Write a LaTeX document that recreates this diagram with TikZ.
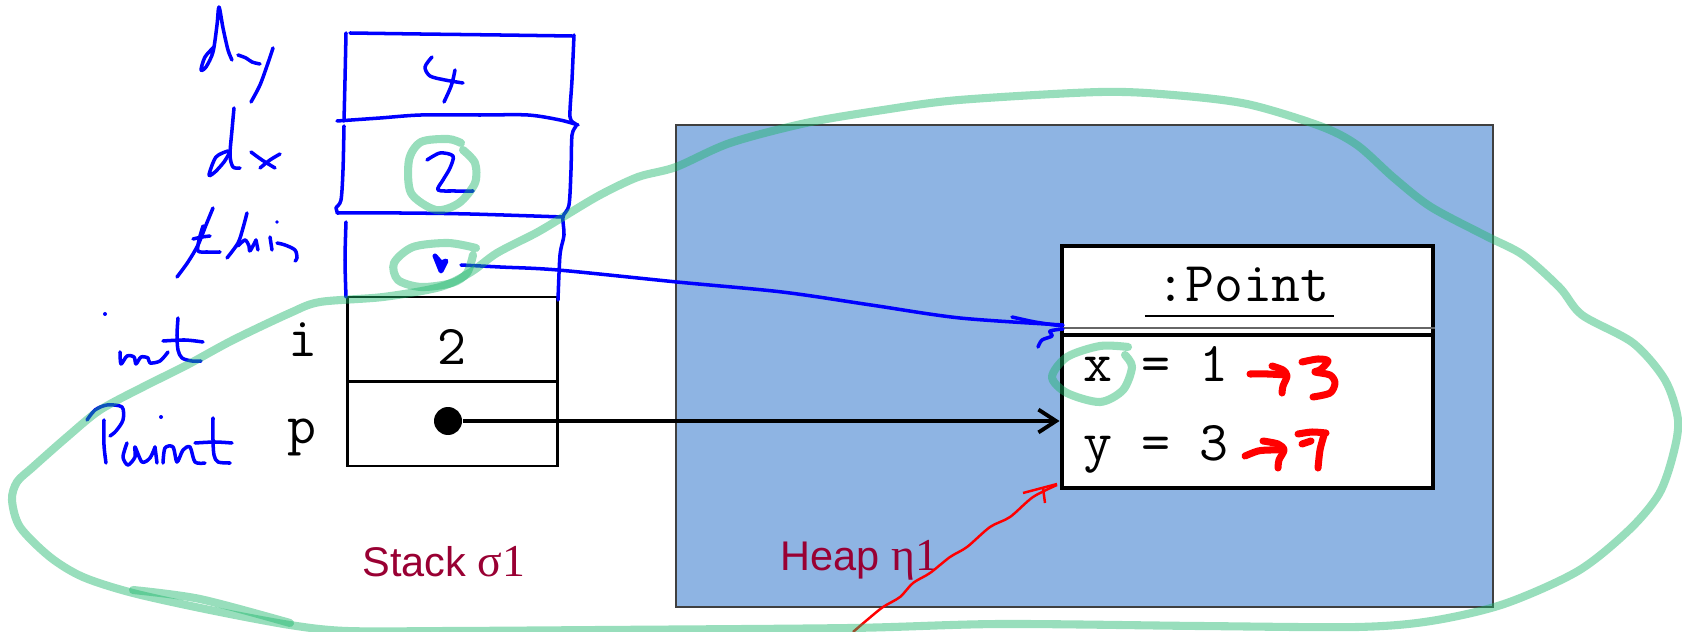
\documentclass[tikz,border=0pt]{standalone}
\usepackage{fontspec}
\newfontfamily\labelsf{Liberation Sans}
\newfontfamily\labelrm{Liberation Serif}
\usetikzlibrary{arrows.meta}

\definecolor{heapblue}{HTML}{8EB4E3}
\definecolor{labelred}{HTML}{990033}
\definecolor{marker}{RGB}{27,182,106}

\tikzset{
  code/.style={font=\fontsize{16}{19}\selectfont\ttfamily, inner sep=0pt},
  cell/.style={draw, line width=0.6pt, minimum width=2.1cm, minimum height=0.845cm, inner sep=0pt},
  hand/.style={blue, line width=1pt, line cap=round, line join=round},
  hilite/.style={marker, opacity=0.45, line width=2.3pt, line cap=round, line join=round},
  redpen/.style={red, line width=2pt, line cap=round, line join=round},
  region/.style={labelred, font=\fontsize{11.8}{14}\selectfont\labelsf, inner sep=0pt},
}
\newcommand{\greekpart}[1]{{\labelrm\fontsize{13}{14}\selectfont #1}}

\begin{document}
\begin{tikzpicture}[x=0.1mm, y=-0.1mm]
\useasboundingbox (0,0) rectangle (1682,632);

% heap with the object
\node[draw=black!75, line width=0.5pt, fill=heapblue, minimum width=8.17cm, minimum height=4.82cm, inner sep=0pt] (heap) at (1084.5,366) {};
\node[region, anchor=base west] (heaplbl) at (780,570) {Heap \greekpart{η1}};

\node[draw, line width=1.4pt, fill=white, minimum width=3.71cm, minimum height=2.42cm, inner sep=0pt] (obj) at (1247.5,367) {};
\draw[line width=0.4pt, black!60] (obj.west |- 0,328) -- (obj.east |- 0,328);
\draw[line width=1.4pt] (obj.west |- 0,335) -- (obj.east |- 0,335);
\node[code, anchor=base] (title) at (1243,302) {:Point};
\draw[line width=0.8pt] ([xshift=-3pt, yshift=-4pt]title.base west) -- ([xshift=1pt, yshift=-4pt]title.base east);
\node[code, anchor=base west] (xrow) at (1083,382) {x = 1};
\node[code, anchor=base west] (yrow) at (1083,460) {y = 3};

% stack
\node[cell] (icell) at (452.5,339.25) {};
\node[cell] (pcell) at (452.5,423.75) {};
\node[code, anchor=base] (ival) at (452,364) {2};
\node[code, anchor=base] (iname) at (303,357) {i};
\node[code, anchor=base] (pname) at (302,443) {p};
\node[circle, fill, inner sep=0pt, minimum size=2.8mm] (pdot) at (448,421) {};
\draw[line width=1.1pt, -{Straight Barb[length=5pt, width=6.5pt, line width=1.1pt]}] (pdot) -- (obj.west |- pdot);
\node[region, anchor=base west] (stacklbl) at (362,576) {Stack \greekpart{σ1}};

% frames added by pen
\draw[hand] plot[smooth] coordinates {(346,33) (345,80) (344,121)};
\draw[hand] plot[smooth] coordinates {(344,126) (343,170) (341,200) (336,208) (338,213)};
\draw[hand] plot[smooth] coordinates {(346,222) (345,260) (346,297)};
\draw[hand] plot[smooth] coordinates {(574,35) (572,80) (570,117) (576,125) (572,135) (571,170) (569,205) (563,217) (564,235) (560,255) (558,300)};
\draw[hand] plot[smooth] coordinates {(350,33) (420,34) (500,35) (572,36)};
\draw[hand] plot[smooth] coordinates {(337,121) (380,118) (421,115) (480,115) (528,115) (560,120) (578,125)};
\draw[hand] plot[smooth] coordinates {(337,213) (400,213) (470,214) (563,217)};

% 4 and 2
\draw[hand] plot[smooth] coordinates {(432,57) (425,67) (430,76) (445,80) (463,83)};
\draw[hand] (455,70) .. controls (452,85) .. (444,102);
\draw[hand] plot[smooth] coordinates {(427,160) (440,153) (453,156) (450,168) (443,180) (438,190) (455,191) (473,191)};

% this pointer
\draw[hand, line width=1.4pt] plot coordinates {(435,256) (441,263) (446,261) (441,271) (435,256)};
\draw[hand] plot[smooth] coordinates {(461,265) (500,267) (558,270) (677,282) (782,292) (871,305) (960,318) (1063,325)};
\draw[hand] plot[smooth] coordinates {(1012,317) (1035,322) (1062,326)};
\draw[hand] plot[smooth] coordinates {(1063,329) (1050,331) (1052,336) (1042,340) (1038,347)};

% type and name labels
\draw[hand] plot[smooth] coordinates {(214,47) (205,57) (201,70) (206,67) (213,52) (217,25) (219,7) (223,28) (228,50) (232,60)};
\draw[hand] plot[smooth] coordinates {(238,55) (246,58) (252,62) (260,64)};
\draw[hand] plot[smooth] coordinates {(273,48) (268,63) (260,85) (251,102)};

\draw[hand] plot[smooth] coordinates {(234,108) (232,130) (230,155) (233,167) (240,168)};
\draw[hand] plot[smooth] coordinates {(228,151) (216,157) (209,175) (215,172) (224,162) (230,152)};
\draw[hand] plot[smooth] coordinates {(251,152) (262,160) (275,168)};
\draw[hand] plot[smooth] coordinates {(280,154) (270,160) (260,168)};

\draw[hand] plot[smooth] coordinates {(213,208) (206,225) (198,245) (188,262) (177,277)};
\draw[hand] plot[smooth] coordinates {(203,226) (199,240) (198,251) (207,252) (220,252)};
\draw[hand] plot[smooth] coordinates {(193,239) (202,237) (210,236)};
\draw[hand] plot[smooth] coordinates {(247,213) (243,228) (238,243) (227,258)};
\draw[hand] plot[smooth] coordinates {(238,246) (245,240) (249,246) (250,251) (256,240)};
\draw[hand] plot[smooth] coordinates {(256,240) (258,250)};
\fill[blue] (277,222) circle (0.18mm);
\draw[hand] plot[smooth] coordinates {(270,237) (272,250)};
\draw[hand] plot[smooth] coordinates {(277,243) (285,245) (295,250) (297,258) (295,261)};

\fill[blue] (105,314) circle (0.2mm);
\draw[hand] plot[smooth] coordinates {(120,352) (121,364) (127,356) (134,357) (136,364) (141,357) (148,358) (150,363) (160,361) (168,352)};
\draw[hand] plot[smooth] coordinates {(178,318) (177,335) (178,350) (182,358) (192,361) (201,361)};
\draw[hand] plot[smooth] coordinates {(163,341) (185,340) (203,342)};

\draw[hand] plot[smooth] coordinates {(104,420) (104,445) (106,463)};
\draw[hand] plot[smooth] coordinates {(87,420) (95,410) (107,405) (122,407) (123,420) (116,431) (110,436)};
\draw[hand] plot[smooth] coordinates {(127,443) (123,457) (128,465) (135,457) (135,447) (142,462) (150,458) (155,447)};
\draw[hand] plot[smooth] coordinates {(155,447) (157,463)};
\fill[blue] (161,417) circle (0.2mm);
\draw[hand] plot[smooth] coordinates {(163,463) (165,448) (173,447) (177,462) (183,450) (190,447) (195,462) (205,463)};
\draw[hand] plot[smooth] coordinates {(213,418) (213,440) (214,455) (218,462) (230,463)};
\draw[hand] plot[smooth] coordinates {(195,443) (215,442) (232,443)};

% new values
\draw[redpen] plot[smooth] coordinates {(1250,374) (1268,374) (1286,375)};
\draw[redpen] plot[smooth] coordinates {(1272,366) (1283,370) (1287,376) (1283,386) (1282,393)};
\draw[redpen] plot[smooth] coordinates {(1302,362) (1318,359) (1328,361) (1320,370) (1315,372) (1330,375) (1335,383) (1330,393) (1313,397)};
\draw[redpen] plot[smooth] coordinates {(1245,456) (1258,451) (1270,450) (1282,450)};
\draw[redpen] plot[smooth] coordinates {(1263,441) (1278,444) (1284,450) (1279,460) (1278,468)};
\draw[redpen] plot[smooth] coordinates {(1298,434) (1312,432) (1326,433)};
\draw[redpen] plot[smooth] coordinates {(1324,435) (1320,450) (1318,468)};
\draw[redpen] (1302,444) -- (1311,441);

\draw[red, line width=0.7pt] plot[smooth] coordinates {(853,632) (867,620) (883,607) (900,597) (913,583) (930,573) (950,557) (967,547) (990,527) (1010,517) (1033,497) (1057,485)};
\draw[red, line width=0.7pt] (1023,493) -- (1057,484);
\draw[red, line width=0.7pt] (1043,488) -- (1045,503);

% marker
\draw[hilite] plot[smooth cycle] coordinates {(320,302) (383,297) (440,287) (471,272) (497,253) (536,233) (563,217) (600,195) (638,177) (676,167) (730,143) (806,123) (883,110) (959,100) (1100,92) (1173,95) (1247,104) (1320,126) (1357,145) (1394,178) (1431,207) (1486,236) (1523,255) (1560,288) (1582,315) (1633,343) (1665,380) (1678,420) (1673,455) (1659,494) (1629,530) (1578,571) (1504,604) (1431,621) (1357,627) (1200,626) (1000,624) (850,628) (600,630) (450,631) (347,631) (290,625) (210,610) (133,593) (83,577) (50,557) (20,527) (12,500) (17,482) (33,467) (67,437) (100,410) (143,387) (187,365) (233,340) (290,313)};
\draw[hilite] plot[smooth] coordinates {(133,590) (200,599) (290,623)};
\draw[hilite] plot[smooth] coordinates {(461,143) (448,139) (421,142) (409,160) (411,193) (436,210) (459,203) (475,183) (475,163) (463,150)};
\draw[hilite] plot[smooth] coordinates {(476,248) (448,243) (413,247) (394,263) (398,280) (421,287) (452,283) (467,273) (473,255)};
\draw[hilite] plot[smooth] coordinates {(1128,347) (1100,346) (1067,357) (1052,377) (1067,393) (1100,402) (1123,390) (1132,367) (1125,355)};

\end{tikzpicture}
\end{document}
